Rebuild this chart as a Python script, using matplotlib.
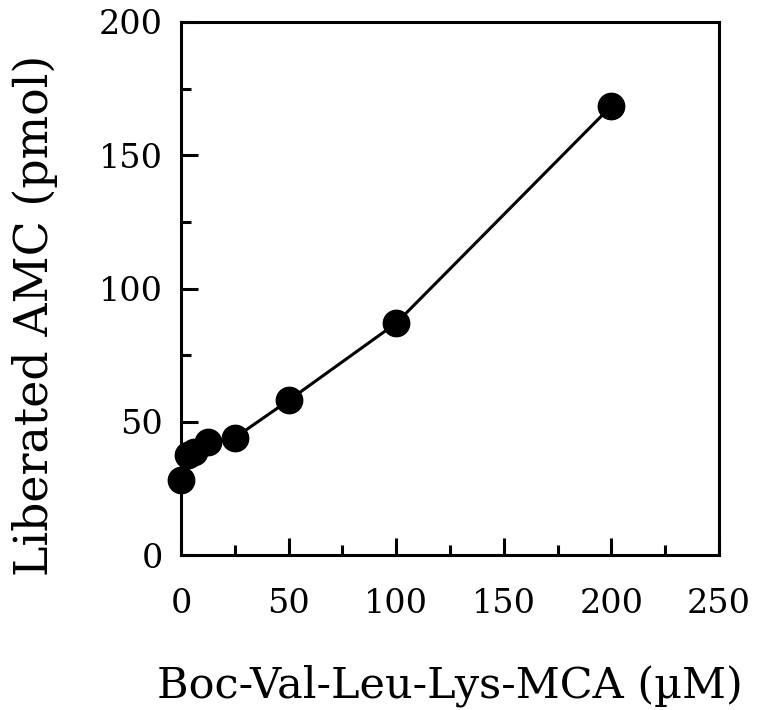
import matplotlib.pyplot as plt

# substrate concentration (uM) vs liberated AMC (pmol)
conc = [0, 3.125, 6.25, 12.5, 25, 50, 100, 200]
amc = [28, 37.5, 38.5, 42.5, 44, 58, 87, 168.5]

plt.rcParams["font.family"] = ["DejaVu Serif"]

fig = plt.figure(figsize=(7.63, 7.1), dpi=100)
ax = fig.add_axes([181 / 763, 1 - 555 / 710, (719 - 181) / 763, (555 - 22) / 710])

ax.plot(conc, amc, color="black", lw=2.2, marker="o", ms=19, clip_on=False)

ax.set_xlim(0, 250)
ax.set_ylim(0, 200)
ax.set_xticks([0, 50, 100, 150, 200, 250])
ax.set_xticks([25, 75, 125, 175, 225], minor=True)
ax.set_yticks([0, 50, 100, 150, 200])
ax.set_yticks([25, 75, 125, 175], minor=True)
ax.tick_params(which="both", direction="in", labelsize=24, width=2.2)
ax.tick_params(which="major", length=12)
ax.tick_params(which="minor", length=7)
ax.tick_params(axis="x", which="major", pad=24)
ax.tick_params(axis="y", which="major", pad=13)
for s in ax.spines.values():
    s.set_linewidth(2.2)

ax.set_xlabel("Boc-Val-Leu-Lys-MCA (µM)", fontsize=31, labelpad=32)
ax.set_ylabel("Liberated AMC (pmol)", fontsize=33)
ax.yaxis.set_label_coords(-0.228, 0.45)

fig.savefig("out.png", dpi=100)
